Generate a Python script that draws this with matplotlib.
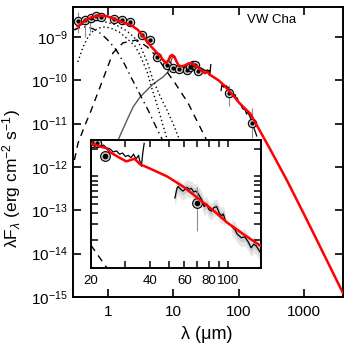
import matplotlib
matplotlib.use('Agg')
import matplotlib.pyplot as plt
from matplotlib.ticker import FixedLocator, NullLocator, FixedFormatter, LogLocator, NullFormatter

plt.rcParams['font.family'] = ['Liberation Sans', 'DejaVu Sans']
plt.rcParams['mathtext.fontset'] = 'custom'
plt.rcParams['mathtext.rm'] = 'Liberation Sans'
plt.rcParams['mathtext.it'] = 'Liberation Sans:italic'
plt.rcParams['mathtext.bf'] = 'Liberation Sans:bold'

# ---------------- data ----------------
model_wl = [0.35, 0.42, 0.5, 0.6, 0.75, 0.9, 1.0, 1.35, 1.8, 2.3, 2.9, 3.5, 4.5, 5.5, 6.5,
            7.0, 7.8, 8.5, 9.0, 9.7, 10.5, 11.3, 12.2, 13.5, 15, 17, 19, 20, 22.6, 24, 25,
            28, 30.3, 33.4, 35.6, 40, 49, 60, 70.3, 85, 100, 120, 150, 200, 300, 540, 1000,
            1460, 2500, 3930]
model_f = [1.73e-9, 2.22e-9, 2.6e-9, 2.9e-9, 3.1e-9, 3.05e-9, 2.97e-9, 2.47e-9, 2.1e-9, 1.84e-9,
           1.45e-9, 1.0e-9, 6.2e-10, 4.5e-10, 3.45e-10, 2.94e-10, 2.5e-10, 2.94e-10, 3.64e-10,
           3.84e-10, 3.45e-10, 2.65e-10, 2.14e-10, 2.1e-10, 2.2e-10, 2.44e-10, 2.47e-10, 2.3e-10,
           2.1e-10, 2.04e-10, 1.84e-10, 1.6e-10, 1.46e-10, 1.56e-10, 1.36e-10, 1.22e-10, 1.0e-10,
           7.6e-11, 5.8e-11, 4.2e-11, 3.1e-11, 2.35e-11, 1.7e-11, 7.8e-12, 2.6e-12, 5.0e-13,
           7.9e-14, 2.5e-14, 4.8e-15, 1.2e-15]

star1_wl = [0.32, 0.45, 0.6, 0.8, 1.34, 1.94, 2.5, 3.1, 4.0, 4.9, 6.3, 8.0, 10.0, 12.8]
star1_f = [1.45e-9, 2.22e-9, 2.47e-9, 2.34e-9, 1.89e-9, 1.38e-9, 1.0e-9, 6.5e-10, 2.65e-10,
           1.02e-10, 4.3e-11, 2.06e-11, 9.8e-12, 3.8e-12]

star2_wl = [0.35, 0.42, 0.5, 0.6, 0.75, 0.9, 1.1, 1.5, 2.0, 2.6, 3.1, 4.0, 4.7, 5.8, 7.1, 8.3]
star2_f = [2.65e-10, 5.9e-10, 1.0e-9, 1.38e-9, 1.61e-9, 1.7e-9, 1.61e-9, 1.3e-9, 9.0e-10,
           6.2e-10, 3.84e-10, 1.56e-10, 6.6e-11, 2.4e-11, 8.3e-12, 3.8e-12]

hot_wl = [0.3, 0.4, 0.5, 0.6, 0.8, 1.0, 1.35, 1.8, 2.3, 3.2, 4.2, 5.2, 6.5, 7.5]
hot_f = [1.45e-9, 1.7e-9, 1.7e-9, 1.53e-9, 1.17e-9, 8.5e-10, 5.0e-10, 2.38e-10, 1.13e-10,
         4.3e-11, 1.95e-11, 9.8e-12, 4.9e-12, 3.2e-12]

wall_wl = [0.31, 0.352, 0.45, 0.538, 0.763, 1.2, 1.71, 2.8, 4.0, 5.66, 8.04, 10.6, 16.8, 23.9, 34, 45]
wall_f = [1.45e-12, 3.56e-12, 9.3e-12, 1.76e-11, 7.0e-11, 4.27e-10, 7.3e-10, 8.5e-10, 5.9e-10,
          3.45e-10, 1.56e-10, 8.7e-11, 3.0e-11, 1.03e-11, 3.56e-12, 1.2e-12]

outer_wl = [1.3, 1.44, 1.97, 2.43, 3.11, 4.92, 6.98, 8.3, 8.9, 9.6]
outer_f = [2.45e-12, 4.2e-12, 1.21e-11, 2.4e-11, 4.1e-11, 8.2e-11, 1.19e-10, 1.56e-10, 2.25e-10, 3.27e-10]

phot_wl = [0.352, 0.455, 0.56, 0.656, 0.78, 1.235, 1.67, 2.17, 3.37, 4.47, 5.6, 7.9,
           10.0, 12.4, 16.1, 18.0, 20.3, 21.5]
phot_f = [2.3e-9, 2.47e-9, 2.8e-9, 3.05e-9, 2.85e-9, 2.6e-9, 2.47e-9, 2.25e-9, 1.1e-9, 8.5e-10,
          3.5e-10, 2.25e-10, 1.9e-10, 1.8e-10, 1.73e-10, 2.0e-10, 2.3e-10, 2.3e-10]

opt_err_wl = [0.352, 0.455, 0.545]
opt_err_lo = [1.24e-9, 1.0e-9, 1.3e-9]
opt_err_hi = [3.78e-9, 3.2e-9, 2.9e-9]

fir_wl = [23.7, 70.0, 157.0]
fir_f = [1.66e-10, 5.1e-11, 1.05e-11]
fir_lo = [1.66e-10, 2.55e-11, 4.7e-12]
fir_hi = [1.66e-10, 7.6e-11, 2.3e-11]

irs_wl = [5.3, 5.6, 6.0, 6.4, 6.8, 7.2, 7.6, 8.0, 8.4, 8.8, 9.2, 9.6, 10.0, 10.5, 11.0, 11.5,
          12.0, 12.6, 13.2, 13.8, 14.5, 15.2, 16.0, 16.8, 17.6, 18.4, 19.2, 20.0, 20.8, 21.6,
          22.4, 23.2, 24.0, 25.0, 26.0, 27.0, 28.0, 29.0, 30.0, 31.0, 32.0, 33.0, 34.0, 35.0,
          35.6, 36.2, 36.8, 37.4]
irs_f = [4.3e-10, 3.9e-10, 3.7e-10, 3.3e-10, 3.0e-10, 2.7e-10, 2.45e-10, 2.5e-10, 2.75e-10,
         3.2e-10, 3.5e-10, 3.6e-10, 3.5e-10, 3.2e-10, 2.85e-10, 2.5e-10, 2.15e-10, 2.0e-10,
         2.05e-10, 1.95e-10, 2.1e-10, 2.05e-10, 2.25e-10, 2.3e-10, 2.4e-10, 2.35e-10, 2.4e-10,
         2.35e-10, 2.25e-10, 2.3e-10, 2.15e-10, 2.2e-10, 2.05e-10, 2.0e-10, 1.85e-10, 1.9e-10,
         1.75e-10, 1.8e-10, 1.65e-10, 1.7e-10, 1.6e-10, 1.75e-10, 1.55e-10, 1.7e-10, 1.45e-10,
         1.29e-10, 1.8e-10, 2.3e-10]

pacs1_wl = [53.7, 55.0, 55.8, 57.5, 59.0, 60.2, 62.0, 63.5, 65.1, 67.0, 68.5, 70.2, 72.0, 74.0,
            75.8, 78.0, 80.0, 82.5, 85.0, 87.9, 90.5, 93.2, 95.0, 96.9]
pacs1_f = [5.82e-11, 7.41e-11, 7.76e-11, 7.24e-11, 6.92e-11, 7.16e-11, 7.59e-11, 7.24e-11,
           7.41e-11, 6.76e-11, 6.92e-11, 6.61e-11, 6.03e-11, 5.5e-11, 4.68e-11, 5.01e-11,
           4.37e-11, 4.17e-11, 4.57e-11, 4.68e-11, 3.98e-11, 3.72e-11, 3.89e-11, 3.39e-11]

pacs2_wl = [105, 108.8, 112, 117.5, 122, 127, 131.7, 136, 140, 146, 152, 158, 165, 172, 180, 188]
pacs2_f = [2.82e-11, 2.63e-11, 2.34e-11, 2.14e-11, 2.19e-11, 1.95e-11, 1.66e-11, 1.82e-11,
           1.74e-11, 1.51e-11, 1.32e-11, 1.05e-11, 8.9e-12, 7.6e-12, 6.3e-12, 5.2e-12]

main_xticks = [1, 10, 100, 1000]
main_yticks = [1e-15, 1e-14, 1e-13, 1e-12, 1e-11, 1e-10, 1e-9]
main_ytick_labels = ['$10^{-15}$', '$10^{-14}$', '$10^{-13}$', '$10^{-12}$', '$10^{-11}$',
                     '$10^{-10}$', '$10^{-9}$']
inset_xticks = [20, 30, 40, 50, 60, 70, 80, 90, 100]
inset_xtick_labels = ['20', '', '40', '', '60', '', '80', '', '100']

# ---------------- figure ----------------
fig = plt.figure(figsize=(3.5, 3.5), dpi=100)
ax = fig.add_axes([0.2086, 0.1514, 0.7714, 0.8286])
ax.set_xscale('log')
ax.set_yscale('log')
ax.set_xlim(0.295, 3900)
ax.set_ylim(1e-15, 4.9e-9)

ax.plot(outer_wl, outer_f, color='0.35', lw=1.0)
ax.plot(star1_wl, star1_f, color='k', lw=1.0, ls=(0, (1, 2)))
ax.plot(star2_wl, star2_f, color='k', lw=1.0, ls=(0, (1, 2)))
ax.plot(hot_wl, hot_f, color='k', lw=1.0, ls=(0, (5, 3, 1, 3)))
ax.plot(wall_wl, wall_f, color='k', lw=1.0, ls=(0, (5, 4)))
ax.plot(irs_wl, irs_f, color='k', lw=0.9)
ax.plot(pacs1_wl, pacs1_f, color='k', lw=0.9)
ax.plot(pacs2_wl, pacs2_f, color='k', lw=0.9)
ax.vlines(opt_err_wl, opt_err_lo, opt_err_hi, color='0.55', lw=0.8)
ax.vlines(fir_wl[1:], fir_lo[1:], fir_hi[1:], color='0.55', lw=0.8)
ax.plot(phot_wl, phot_f, ls='none', marker='o', ms=6, mfc='0.8', mec='k', mew=0.8)
ax.plot(phot_wl, phot_f, ls='none', marker='o', ms=2, mfc='k', mec='k')
ax.plot(fir_wl, fir_f, ls='none', marker='o', ms=6, mfc='0.8', mec='k', mew=0.8)
ax.plot(fir_wl, fir_f, ls='none', marker='o', ms=2, mfc='k', mec='k')
ax.plot(model_wl, model_f, color='#ff0000', lw=1.8, zorder=5)

ax.xaxis.set_major_locator(FixedLocator(main_xticks))
ax.xaxis.set_major_formatter(FixedFormatter([str(t) for t in main_xticks]))
ax.xaxis.set_minor_locator(NullLocator())
ax.yaxis.set_major_locator(FixedLocator(main_yticks))
ax.yaxis.set_major_formatter(FixedFormatter(main_ytick_labels))
ax.yaxis.set_minor_locator(NullLocator())
ax.tick_params(which='both', direction='in', top=True, right=True, length=6, width=1.2,
               labelsize=11)
ax.tick_params(axis='x', pad=6)
ax.tick_params(axis='y', pad=4)
for s in ax.spines.values():
    s.set_linewidth(1.4)

fig.text(0.777, 0.943, 'VW Cha', ha='center', va='center', fontsize=9.5)
fig.text(0.592, 0.045, 'λ (μm)', ha='center', va='center', fontsize=13)
fig.text(0.034, 0.49, 'λF$_\\lambda$ (erg cm$^{-2}$ s$^{-1}$)', ha='center', va='center',
         rotation=90, fontsize=12.5)

# ---------------- inset ----------------
axi = fig.add_axes([0.26, 0.2343, 0.4857, 0.3657])
axi.set_facecolor('white')
axi.set_xscale('log')
axi.set_yscale('log')
axi.set_xlim(20, 148)
axi.set_ylim(1e-11, 2.5e-10)

for wl, fl in ((pacs1_wl, pacs1_f), (pacs2_wl, pacs2_f)):
    axi.fill_between(wl, [v * 0.8 for v in fl], [v * 1.22 for v in fl], color='0.9', lw=0)
    axi.fill_between(wl, [v * 0.9 for v in fl], [v * 1.1 for v in fl], color='0.8', lw=0)
axi.plot(wall_wl, wall_f, color='k', lw=1.0, ls=(0, (5, 4)))
axi.plot(irs_wl, irs_f, color='k', lw=0.9)
axi.plot(pacs1_wl, pacs1_f, color='k', lw=0.9)
axi.plot(pacs2_wl, pacs2_f, color='k', lw=0.9)
axi.vlines(fir_wl[1:], fir_lo[1:], fir_hi[1:], color='0.55', lw=0.8)
axi.plot(phot_wl, phot_f, ls='none', marker='o', ms=6, mfc='0.8', mec='k', mew=0.8)
axi.plot(phot_wl, phot_f, ls='none', marker='o', ms=2, mfc='k', mec='k')
axi.plot(fir_wl, fir_f, ls='none', marker='o', ms=7, mfc='0.8', mec='k', mew=0.8)
axi.plot(fir_wl, fir_f, ls='none', marker='o', ms=3, mfc='k', mec='k')
axi.plot(model_wl, model_f, color='#ff0000', lw=1.8, zorder=5)

axi.xaxis.set_major_locator(FixedLocator(inset_xticks))
axi.xaxis.set_major_formatter(FixedFormatter(inset_xtick_labels))
axi.xaxis.set_minor_locator(NullLocator())
axi.yaxis.set_major_locator(LogLocator(base=10))
axi.yaxis.set_minor_locator(LogLocator(base=10, subs=[2, 3, 4, 5, 6, 7, 8, 9]))
axi.yaxis.set_major_formatter(NullFormatter())
axi.yaxis.set_minor_formatter(NullFormatter())
axi.tick_params(which='both', direction='in', top=True, right=True, length=5, width=1.1,
                labelsize=9.5, labelleft=False)
axi.tick_params(axis='x', pad=5)
for s in axi.spines.values():
    s.set_linewidth(1.4)

fig.savefig('out.png', dpi=100)
